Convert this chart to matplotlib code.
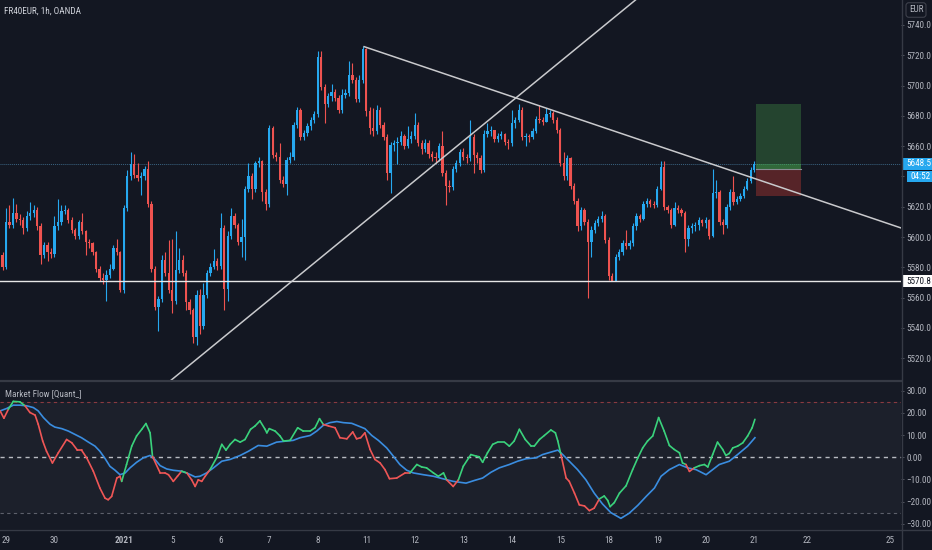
import numpy as np
import matplotlib
matplotlib.use('Agg')
import matplotlib.pyplot as plt
import matplotlib.transforms as mtransforms
from matplotlib import font_manager
from matplotlib.collections import LineCollection
from matplotlib.patches import Rectangle
from matplotlib.lines import Line2D

# pick a narrow face if one is installed, else Roboto a bit smaller
FONT, FS = 'Roboto', 5.9
for name in ['Liberation Sans Narrow', 'Roboto Condensed', 'DejaVu Sans Condensed']:
    try:
        f = font_manager.findfont(font_manager.FontProperties(family=name),
                                  fallback_to_default=False)
        if 'narrow' in f.lower() or 'condensed' in f.lower():
            FONT, FS = name, 6.6
            break
    except Exception:
        pass
plt.rcParams['font.family'] = [FONT, 'DejaVu Sans']

# ---------------- data (hourly candles, bar 0 = last bar of Dec 28) ----------------
first_open = 5588
closes = [
    5580, 5610, 5608, 5616, 5612, 5611, 5606, 5614, 5616, 5618,
    5607, 5588, 5595, 5590, 5589, 5607, 5610, 5617, 5618, 5611,
    5605, 5601, 5610, 5604, 5597, 5596, 5590, 5579, 5573, 5572,
    5575, 5579, 5593, 5590, 5565, 5619, 5640, 5648, 5641, 5639,
    5640, 5645, 5622, 5579, 5554, 5559, 5585, 5576, 5565, 5558,
    5578, 5585, 5576, 5557, 5552, 5534, 5562, 5541, 5562, 5576,
    5580, 5584, 5581, 5606, 5566, 5601, 5614, 5608, 5597, 5600,
    5632, 5640, 5632, 5649, 5650, 5630, 5622, 5672, 5654, 5653,
    5638, 5635, 5651, 5653, 5674, 5684, 5666, 5669, 5673, 5677,
    5681, 5719, 5699, 5688, 5693, 5696, 5692, 5684, 5694, 5695,
    5707, 5704, 5691, 5704, 5724, 5683, 5672, 5670, 5684, 5674,
    5666, 5642, 5661, 5662, 5663, 5667, 5660, 5665, 5667, 5674,
    5662, 5658, 5662, 5655, 5653, 5652, 5660, 5642, 5634, 5633,
    5645, 5649, 5656, 5653, 5652, 5666, 5654, 5652, 5644, 5668,
    5670, 5671, 5665, 5667, 5668, 5663, 5662, 5675, 5677, 5684,
    5666, 5667, 5666, 5670, 5678, 5677, 5676, 5681, 5682, 5677,
    5671, 5649, 5640, 5652, 5634, 5624, 5607, 5618, 5610, 5597,
    5605, 5609, 5612, 5614, 5598, 5574, 5571, 5587, 5590, 5596,
    5594, 5596, 5607, 5614, 5612, 5622, 5624, 5622, 5621, 5632,
    5646, 5620, 5618, 5608, 5619, 5618, 5616, 5599, 5606, 5607,
    5608, 5611, 5609, 5611, 5601, 5629, 5630, 5610, 5608, 5620,
    5630, 5623, 5625, 5627, 5632, 5637, 5644, 5648.5,
]
highs = [
    5590, 5619, 5621, 5626, 5622, 5615, 5613, 5617, 5623, 5621,
    5620, 5609, 5597, 5597, 5593, 5614, 5625, 5621, 5621, 5619,
    5613, 5606, 5611, 5616, 5605, 5599, 5597, 5591, 5581, 5576,
    5578, 5582, 5595, 5599, 5591, 5621, 5644, 5656, 5655, 5649,
    5643, 5647, 5650, 5624, 5581, 5561, 5588, 5590, 5598, 5599,
    5604, 5593, 5588, 5578, 5559, 5553, 5565, 5566, 5570, 5578,
    5583, 5592, 5586, 5616, 5608, 5604, 5619, 5616, 5609, 5612,
    5634, 5649, 5642, 5650, 5653, 5651, 5632, 5674, 5673, 5656,
    5662, 5640, 5653, 5656, 5676, 5686, 5685, 5671, 5675, 5679,
    5683, 5723, 5723, 5701, 5695, 5701, 5698, 5694, 5698, 5698,
    5716, 5715, 5706, 5707, 5726, 5725, 5686, 5685, 5687, 5686,
    5676, 5668, 5663, 5664, 5666, 5670, 5668, 5673, 5670, 5682,
    5676, 5664, 5665, 5664, 5657, 5656, 5662, 5670, 5644, 5638,
    5647, 5651, 5658, 5659, 5655, 5677, 5668, 5656, 5654, 5671,
    5675, 5673, 5671, 5669, 5670, 5669, 5665, 5684, 5679, 5688,
    5686, 5669, 5668, 5672, 5680, 5687, 5679, 5685, 5684, 5683,
    5679, 5672, 5656, 5654, 5653, 5636, 5626, 5620, 5619, 5612,
    5607, 5611, 5614, 5617, 5615, 5600, 5576, 5589, 5592, 5598,
    5605, 5598, 5609, 5616, 5615, 5624, 5626, 5625, 5624, 5634,
    5650, 5650, 5621, 5619, 5623, 5621, 5619, 5617, 5608, 5609,
    5610, 5613, 5612, 5613, 5612, 5645, 5638, 5631, 5612, 5622,
    5632, 5640, 5627, 5629, 5634, 5639, 5646, 5650,
]
lows = [
    5578, 5579, 5606, 5606, 5610, 5608, 5602, 5604, 5611, 5613,
    5605, 5582, 5586, 5584, 5586, 5587, 5605, 5608, 5615, 5609,
    5603, 5599, 5599, 5602, 5588, 5593, 5588, 5577, 5571, 5569,
    5558, 5573, 5578, 5588, 5564, 5563, 5617, 5638, 5639, 5637,
    5628, 5638, 5620, 5577, 5552, 5538, 5557, 5574, 5563, 5550,
    5556, 5576, 5574, 5552, 5549, 5530, 5529, 5536, 5539, 5560,
    5574, 5579, 5578, 5579, 5552, 5558, 5599, 5606, 5595, 5587,
    5585, 5630, 5625, 5630, 5646, 5624, 5618, 5620, 5652, 5650,
    5636, 5633, 5628, 5649, 5651, 5672, 5664, 5664, 5667, 5671,
    5675, 5679, 5697, 5675, 5686, 5690, 5690, 5682, 5682, 5692,
    5693, 5702, 5689, 5689, 5702, 5680, 5668, 5667, 5668, 5672,
    5664, 5638, 5629, 5657, 5648, 5661, 5658, 5659, 5662, 5665,
    5660, 5655, 5656, 5652, 5650, 5649, 5650, 5640, 5621, 5630,
    5631, 5643, 5647, 5651, 5649, 5650, 5642, 5649, 5642, 5643,
    5666, 5667, 5663, 5663, 5665, 5661, 5658, 5660, 5672, 5676,
    5664, 5660, 5663, 5665, 5669, 5675, 5674, 5676, 5679, 5675,
    5669, 5647, 5638, 5638, 5632, 5622, 5604, 5605, 5608, 5560,
    5587, 5603, 5607, 5610, 5596, 5572, 5570.8, 5571, 5585, 5588,
    5592, 5592, 5594, 5605, 5610, 5611, 5620, 5620, 5619, 5620,
    5631, 5618, 5616, 5606, 5607, 5616, 5614, 5590, 5594, 5603,
    5604, 5605, 5607, 5606, 5599, 5600, 5626, 5608, 5602, 5606,
    5618, 5621, 5622, 5624, 5626, 5631, 5636, 5643,
]

# date labels (bar positions of first bar of each day, future ones on the time scale)
date_bars = [1, 15, 35, 49, 63, 77, 91, 105, 119, 133, 147, 161, 175, 189, 203, 217, 232.2, 256.2]
date_labels = ['29', '30', '2021', '5', '6', '7', '8', '11', '12', '13', '14', '15',
               '18', '19', '20', '21', '22', '25']

price_ticks = [5520, 5540, 5560, 5580, 5600, 5620, 5640, 5660, 5680, 5700, 5720, 5740]
hidden_tick = 5640   # sits behind the last-price / countdown boxes
osc_ticks = [30, 20, 10, 0, -10, -20, -30]

# drawings
rise_line = [(48.8, 5505.8), (175.4, 5742.8)]
fall_line = [(104.4, 5725.7), (262.0, 5604.0)]
support_level = 5570.8
last_price = 5648.5
countdown = '04:52'
pos_x = (217.5, 230.5)
pos_entry, pos_target, pos_stop = 5644.8, 5688.1, 5627.4

# Market Flow oscillator (bar position, value)
fast_x = [-0.7, 0.4, 1.7, 3.1, 5.0, 6.5, 7.9, 9.4, 10.3, 11.6, 12.7, 14.4, 16.1, 18.5, 20.0,
          21.6, 22.8, 24.3, 26.2, 28.1, 29.6, 30.5, 31.5, 33.0, 33.9, 34.4, 35.8, 37.3, 38.7,
          40.2, 41.4, 42.6, 43.3, 45.5, 46.9, 47.9, 49.3, 50.5, 51.7, 53.2, 54.6, 55.6, 56.5,
          57.5, 58.5, 59.9, 61.8, 63.3, 64.5, 65.7, 67.1, 68.6, 70.0, 71.6, 72.9, 74.3, 75.8,
          76.3, 77.0, 78.7, 80.1, 81.1, 83.0, 85.2, 86.8, 88.8, 90.2, 91.5, 92.6, 94.1, 96.0,
          97.4, 99.4, 101.1, 102.2, 103.4, 104.6, 106.1, 107.5, 109.0, 110.4, 111.7, 113.8,
          116.2, 117.6, 119.6, 121.0, 122.4, 124.4, 125.8, 127.3, 128.2, 130.1, 131.6, 133.0,
          135.2, 136.7, 137.6, 138.6, 140.0, 141.5, 142.9, 144.9, 146.3, 147.7, 149.2, 150.9,
          152.6, 153.5, 155.0, 156.4, 158.3, 159.6, 160.3, 161.2, 162.7, 163.6, 165.1, 166.5,
          168.0, 169.4, 170.8, 172.3, 173.7, 174.7, 175.4, 176.6, 178.1, 180.0, 181.9, 183.4,
          184.8, 186.2, 187.7, 189.4, 191.0, 192.5, 193.9, 195.4, 196.3, 197.3, 198.3, 199.7,
          201.2, 202.6, 203.6, 205.0, 206.4, 207.9, 208.8, 209.8, 210.8, 212.2, 213.7, 215.1,
          216.4, 217.2]
fast_y = [20.9, 17.6, 21.7, 25.2, 25.0, 23.2, 20.2, 19.0, 14.9, 7.3, 2.7, -2.6, 2.0, 8.0, 6.5,
          3.2, 3.2, -0.3, -6.3, -13.9, -18.5, -19.2, -17.7, -9.4, -8.6, -10.9, -3.3, 5.0, 9.6,
          12.6, 15.2, 11.0, 0.3, -7.1, -7.1, -7.9, -10.9, -8.6, -6.3, -7.1, -10.2, -13.2, -10.2,
          -10.9, -8.6, -5.6, -0.3, 5.8, 3.2, 5.8, 8.0, 6.8, 8.0, 12.6, 14.1, 16.4, 12.6,
          11.0, 12.9, 11.8, 9.6, 7.3, 7.6, 13.3, 11.8, 11.8, 13.3, 17.4, 14.8, 14.1, 13.3,
          8.8, 8.3, 11.4, 8.3, 8.8, 11.0, 3.5, -1.0, -2.6, -5.6, -9.7, -9.4,
          -7.1, -7.1, -3.3, -4.4, -4.8, -7.1, -8.6, -7.1, -10.2, -13.2, -10.2, -4.1,
          1.2, 0.5, 0.2, -2.3, 2.0, 5.8, 6.8, 6.8, 5.0, 7.3, 12.6, 8.0,
          5.0, 5.0, 8.0, 9.8, 12.3, 11.0, 7.3, 1.2, -9.4, -10.9, -16.2, -21.5,
          -22.0, -24.1, -23.0, -18.8, -17.5, -19.5, -22.3, -20.5, -16.2, -12.9, -5.6, -0.3,
          4.2, 7.3, 9.6, 17.9, 11.8, 5.3, 3.5, 2.0, -2.6, -3.3, -6.4, -4.8,
          -3.8, -3.3, -4.4, 1.2, 6.8, 3.5, 0.8, 1.7, 4.2, 5.0, 6.5, 9.6,
          13.3, 17.1]
slow_x = [-0.7, 1.2, 3.1, 5.0, 7.0, 8.9, 10.3, 11.8, 13.7, 15.1, 17.1, 19.0, 20.9, 22.8, 24.8,
          26.7, 28.1, 29.6, 31.0, 32.5, 33.9, 35.4, 36.8, 38.7, 40.6, 42.6, 44.0, 45.5, 47.4,
          49.3, 51.7, 53.6, 55.6, 57.0, 58.9, 60.9, 63.3, 65.7, 68.6, 71.0, 73.8, 76.3, 79.1,
          82.0, 83.9, 85.9, 88.8, 90.7, 92.6, 94.5, 96.5, 98.4, 100.8, 103.2, 104.6, 106.6,
          108.5, 110.9, 112.8, 114.7, 116.7, 118.6, 121.5, 124.4, 127.3, 130.1, 133.8, 136.2,
          138.6, 141.0, 143.4, 146.3, 148.7, 151.1, 154.0, 155.9, 158.3, 160.3, 161.7, 163.6,
          166.0, 168.4, 170.8, 173.2, 175.6, 178.5, 180.9, 183.4, 185.8, 188.2, 190.1, 192.5,
          195.4, 197.8, 200.2, 203.1, 205.0, 206.9, 209.8, 212.2, 215.1, 217.2]
slow_y = [20.9, 22.0, 23.5, 23.5, 23.2, 22.4, 20.9, 17.9, 14.9, 13.6, 12.9, 11.8, 10.3, 8.8, 6.8,
          5.0, 2.7, -0.6, -4.1, -5.9, -7.9, -7.1, -4.8, -2.3, -0.3, 0.8, -1.0, -3.8, -5.3,
          -5.9, -6.3, -7.4, -8.9, -8.6, -7.1, -4.8, -1.8, -1.0, 0.8, 2.7, 5.3, 5.0, 6.8,
          7.3, 7.6, 8.8, 9.8, 11.8, 14.4, 15.6, 16.1, 15.6, 15.3, 13.8, 12.9, 9.8,
          7.6, 4.2, 0.5, -3.3, -5.9, -7.1, -7.9, -8.6, -9.8, -10.9, -11.7, -10.5,
          -9.4, -6.8, -4.8, -3.3, -1.8, -0.7, -0.3, 1.2, 2.3, 3.2, 1.2, -1.8,
          -5.6, -10.2, -16.2, -21.1, -25.0, -27.6, -25.3, -21.7, -17.7, -13.9, -8.6, -5.6,
          -3.3, -4.8, -5.6, -7.9, -5.6, -3.3, -1.8, 1.2, 5.0, 8.8]

# ---------------- style ----------------
BG = '#131722'
UP = '#26a8ef'
DOWN = '#ef5350'
TXT = '#b2b5be'
SEP = '#363a45'
GREEN = '#3ad27c'
RED = '#ef5656'
BLUE = '#3a8de0'

W, H = 932, 550
fig = plt.figure(figsize=(W / 100, H / 100), dpi=100, facecolor=BG)

# x scale: 3.464 px per bar, bar 1 at 6 px
xlim = (-0.732, 259.37)

ax = fig.add_axes([0, 169 / H, 901 / W, 381 / H])
osc = fig.add_axes([0, 21 / H, 901 / W, 148 / H], sharex=ax)
ax.set_facecolor(BG)
osc.set_facecolor('#161a25')

# ---------------- candles ----------------
c = np.array(closes, dtype=float)
o = np.array([first_open] + closes[:-1], dtype=float)
hi = np.array(highs, dtype=float)
lo = np.array(lows, dtype=float)
bx = np.arange(len(c))
cols = np.where(c >= o, UP, DOWN)
ax.vlines(bx, lo, hi, colors=cols, linewidth=0.8, zorder=3)
ax.bar(bx, np.maximum(np.abs(c - o), 0.7), bottom=np.minimum(o, c), width=0.66,
       color=cols, linewidth=0, zorder=4)

# drawings
ax.axhline(last_price, color='#3a6482', lw=0.7, ls=(0, (1, 1)), zorder=2)
ax.axhline(support_level, color='#e6e6e6', lw=1.0, zorder=5)
ax.axline(rise_line[0], rise_line[1], color='#c9cacd', lw=1.1, zorder=5)
ax.plot([fall_line[0][0], fall_line[1][0]], [fall_line[0][1], fall_line[1][1]],
        color='#c9cacd', lw=1.1, zorder=5)

# long position tool
pw = pos_x[1] - pos_x[0]
ax.add_patch(Rectangle((pos_x[0], pos_entry), pw, pos_target - pos_entry,
                       facecolor='#4caf50', alpha=0.3, lw=0, zorder=2))
ax.add_patch(Rectangle((pos_x[0], pos_entry), pw, last_price - pos_entry,
                       facecolor='#4caf50', alpha=0.35, lw=0, zorder=2))
ax.add_patch(Rectangle((pos_x[0], pos_stop), pw, pos_entry - pos_stop,
                       facecolor='#f44336', alpha=0.3, lw=0, zorder=2))
ax.plot(pos_x, [pos_entry, pos_entry], color='#8a8d94', lw=0.8, zorder=3)

ax.set_xlim(xlim)
ax.set_ylim(5505.0, 5756.5)
ax.yaxis.tick_right()
ax.set_yticks(price_ticks)
ax.set_yticklabels(['' if v == hidden_tick else '%.1f' % v for v in price_ticks])
ax.tick_params(axis='y', colors=TXT, labelsize=FS, length=2.5, width=0.6, pad=1.5,
               color='#5d606b')
ax.tick_params(axis='x', bottom=False, labelbottom=False)
for s in ax.spines.values():
    s.set_visible(False)

# price labels on the axis
tr = mtransforms.blended_transform_factory(ax.transAxes, ax.transData)
ax.add_patch(Rectangle((1.001, last_price - 3.9), 0.034, 7.8, transform=tr,
                       facecolor=UP, lw=0, clip_on=False, zorder=10))
ax.text(1.0055, last_price, '%.1f' % last_price, transform=tr, ha='left', va='center',
        color='white', fontsize=FS, clip_on=False, zorder=11)
ax.add_patch(Rectangle((1.0065, 5640.0 - 3.9), 0.0285, 7.8, transform=tr,
                       facecolor=UP, lw=0, clip_on=False, zorder=10))
ax.text(1.010, 5640.0, countdown, transform=tr, ha='left', va='center',
        color='white', fontsize=FS, clip_on=False, zorder=11)
ax.add_patch(Rectangle((1.001, support_level - 4.0), 0.034, 8.0, transform=tr,
                       facecolor='white', lw=0, clip_on=False, zorder=10))
ax.text(1.0055, support_level, '%.1f' % support_level, transform=tr, ha='left',
        va='center', color=BG, fontsize=FS, clip_on=False, zorder=11)

# ---------------- oscillator ----------------
osc.axhspan(-25, 25, color='#1c202b', lw=0, zorder=0)
osc.axhline(25, color='#8a3a40', lw=0.8, ls=(0, (3, 3)), zorder=1)
osc.axhline(0, color='#b8bbc2', lw=1.0, ls=(0, (3, 3)), zorder=1)
osc.axhline(-25, color='#5d606b', lw=0.8, ls=(0, (3, 3)), zorder=1)

osc.plot(slow_x, slow_y, color=BLUE, lw=1.2, zorder=3)
fx = np.array(fast_x)
fy = np.array(fast_y)
pts = np.column_stack([fx, fy])
segs = np.stack([pts[:-1], pts[1:]], axis=1)
mid_x = (fx[:-1] + fx[1:]) / 2
mid_y = (fy[:-1] + fy[1:]) / 2
above = mid_y >= np.interp(mid_x, slow_x, slow_y)
osc.add_collection(LineCollection(segs, colors=np.where(above, GREEN, RED),
                                  linewidths=1.2, zorder=4, capstyle='round'))

osc.set_ylim(-32.4, 34.4)
osc.yaxis.tick_right()
osc.set_yticks(osc_ticks)
osc.set_yticklabels([('%.2f' % v).replace('-', '\u2212') for v in osc_ticks])
osc.tick_params(axis='y', colors=TXT, labelsize=FS, length=2.5, width=0.6, pad=1.5,
                color='#5d606b')
osc.set_xticks(date_bars)
osc.set_xticklabels(date_labels)
osc.tick_params(axis='x', colors=TXT, labelsize=FS, length=0, pad=5)
for lab in osc.get_xticklabels():
    if lab.get_text() == '2021':
        lab.set_fontweight('bold')
for s in osc.spines.values():
    s.set_visible(False)

# panel separators
fig.add_artist(Line2D([0, 901 / W], [169 / H, 169 / H], color=SEP, lw=1.6))
fig.add_artist(Line2D([0, 1], [20.5 / H, 20.5 / H], color=SEP, lw=1.0))
fig.add_artist(Line2D([901.5 / W, 901.5 / W], [0, 1], color=SEP, lw=1.0))

# texts
fig.text(4 / W, 1 - 11 / H, 'FR40EUR, 1h, OANDA', color='#d1d4dc', fontsize=FS, va='center')
fig.text(5 / W, 1 - 394 / H, 'Market Flow [Quant_]', color=TXT, fontsize=FS, va='center')
fig.text(916 / W, 1 - 10 / H, 'EUR', color=TXT, fontsize=FS, ha='center', va='center',
         bbox=dict(boxstyle='round,pad=0.3', fc='none', ec='#434651', lw=0.7))

fig.savefig('out.png', dpi=100, facecolor=BG)
